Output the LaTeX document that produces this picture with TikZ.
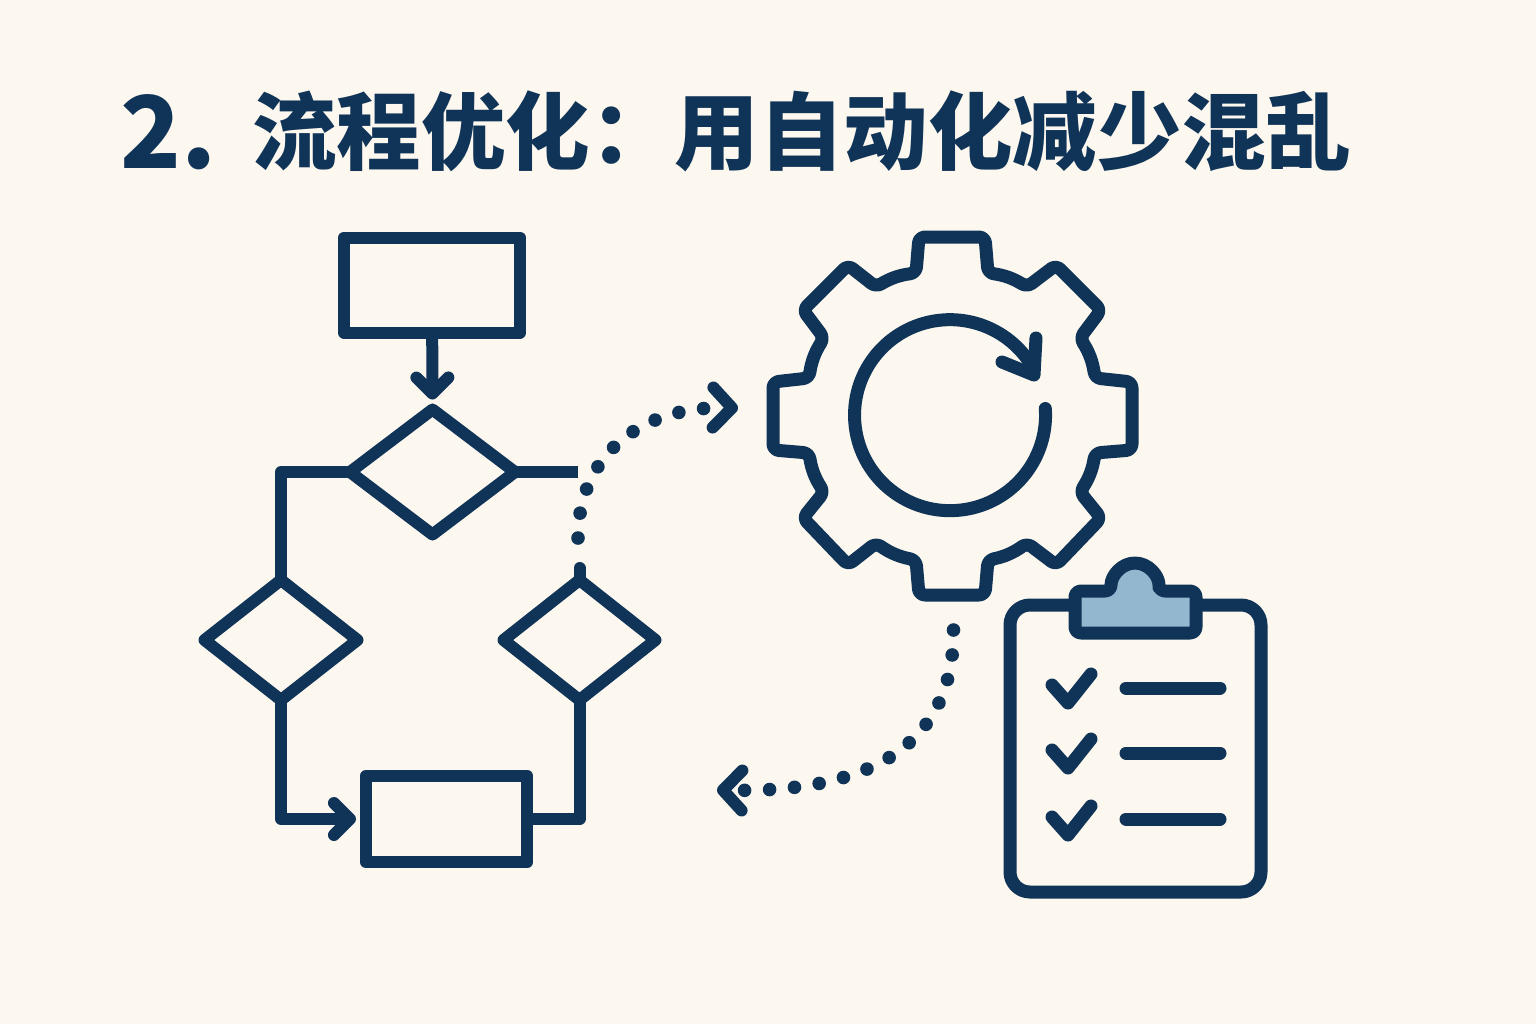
\documentclass[tikz,border=0pt]{standalone}
\usepackage{fontspec}
\newfontfamily\cjk{Noto Sans CJK SC}
\usetikzlibrary{arrows.meta,shapes.geometric,positioning}
\definecolor{navy}{HTML}{0F3457}
\definecolor{paper}{HTML}{FCF7EF}
\definecolor{clipblue}{HTML}{93B7CE}
\tikzset{
  barb/.tip={Straight Barb[length=8pt,width=16pt,line width=6pt,round]},
  wide barb/.tip={Straight Barb[length=9.5pt,width=20pt,line width=6pt,round]},
  flow/.style={draw=navy,line width=6pt,line join=round,minimum width=0pt,outer sep=0pt,inner sep=0pt},
  link/.style={navy,line width=6pt,line join=round},
  dots/.style={navy,line width=6.8pt,line cap=round,dash pattern=on 0pt off 12.5pt},
  icon/.style={navy,line width=6.5pt,line join=round,line cap=round}
}
\begin{document}
\begin{tikzpicture}[x=0.5pt,y=0.5pt,yscale=-1]
    \useasboundingbox (0,0) rectangle (1536,1024);
    \fill[paper] (0,0) rectangle (1536,1024);
    \node[anchor=base west,text=navy,inner sep=0pt] (title) at (120,168) {\cjk\bfseries\fontsize{50pt}{50pt}\selectfont 2.\hspace{18pt}\fontsize{42.25pt}{50pt}\selectfont\raisebox{2.5pt}{流程优化\char"FF1A 用自动化减少混乱}};

    \node[flow,rectangle,minimum width=88pt,minimum height=47.5pt] (startbox) at (432,285) {};
    \node[flow,diamond,minimum width=82.5pt,minimum height=62.5pt] (gatetop) at (432.5,472) {};
    \node[flow,diamond,minimum width=76.5pt,minimum height=60pt] (gateleft) at (281,640) {};
    \node[flow,diamond,minimum width=76pt,minimum height=60pt] (gateright) at (579.5,640) {};
    \node[flow,rectangle,minimum width=80.75pt,minimum height=43pt] (endbox) at (446.7,819) {};
    \coordinate (gatestub) at (578,472);
    \coordinate (stubtop) at (579.5,568);
    \coordinate (dotup) at (578,538);
    \coordinate (gearin) at (738,408);
    \coordinate (dotdown) at (953.5,630);
    \coordinate (listin) at (717,790);

    \draw[link,-{barb},shorten >=5pt] (startbox) -- (gatetop.north);
    \draw[link] (gatetop.west) -| (gateleft.north);
    \draw[link] (gatetop.east) -- (gatestub);
    \draw[link,line cap=round] (gateright.north) -- (stubtop);
    \draw[link,-{barb},shorten >=5pt] (gateleft.south) |- (endbox.west);
    \draw[link] (gateright.south) |- (endbox.east);

    \draw[dots,-{wide barb}] (dotup) .. controls (578,460) and (636,406) .. (gearin);
    \draw[dots,-{wide barb}] (dotdown) .. controls (954,745) and (870,793) .. (listin);

    \draw[icon,rounded corners=3pt] (919,237) -- (985,237) -- (988,273) to[bend right=12] (1027,287) -- (1056,265) -- (1101,310) -- (1080,338) to[bend right=12] (1095,378) -- (1132,382) -- (1132,450) -- (1095,453) to[bend right=12] (1080,492) -- (1101,518) -- (1056,565) -- (1027,543) to[bend right=12] (988,560) -- (985,595) -- (919,595) -- (916,560) to[bend right=12] (876,543) -- (848,565) -- (803,518) -- (824,492) to[bend right=12] (809,453) -- (773,450) -- (773,382) -- (809,378) to[bend right=12] (824,338) -- (803,310) -- (848,265) -- (876,287) to[bend right=12] (916,273) -- cycle;
    \draw[icon] (1045.3,408.5) arc[start angle=-4,end angle=330,radius=95.5];
    \draw[icon] (1036,338) -- (1034,375) -- (1002,362);

    \draw[icon,rounded corners=10pt] (1010,605) rectangle (1261,892);
    \draw[icon,fill=clipblue,rounded corners=3pt] (1075,633) -- (1075,591) -- (1111,591) arc[start angle=180,end angle=360,x radius=24,y radius=28] -- (1159,591) -- (1196,591) -- (1196,633) -- cycle;
    \foreach \rowy/\liney in {685/688,750/753,817/819}{
      \draw[icon] (1052,\rowy) -- (1068,\rowy+18) -- (1091,\rowy-11);
      \draw[icon] (1126,\liney) -- (1220,\liney);
    }
\end{tikzpicture}
\end{document}
